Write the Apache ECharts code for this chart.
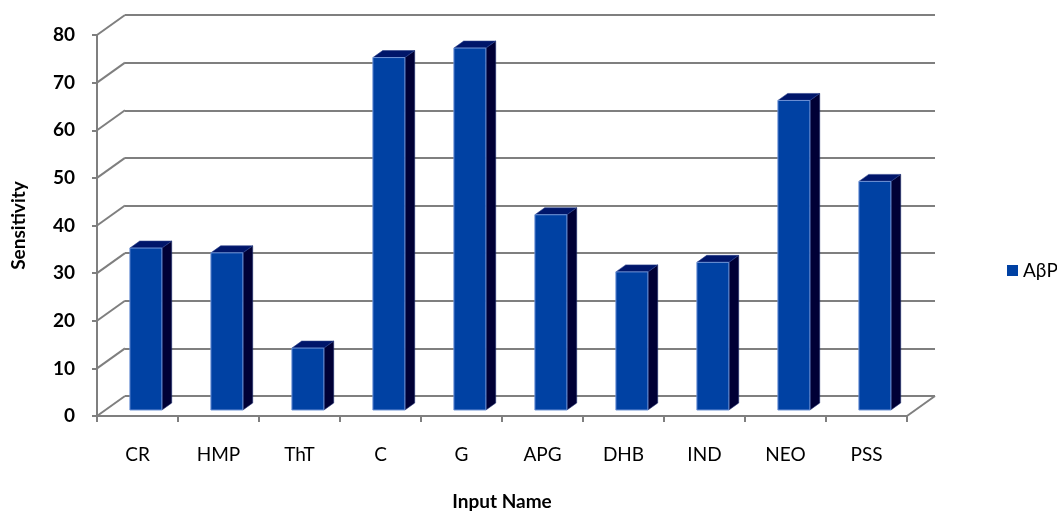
<!DOCTYPE html>
<html>
<head>
<meta charset="utf-8">
<script src="https://cdn.jsdelivr.net/npm/echarts@6/dist/echarts.min.js"></script>
<style>
  html, body { margin: 0; padding: 0; background: #fff; }
  #chart { width: 1057px; height: 513px; }
</style>
</head>
<body>
<div id="chart"></div>
<script>
// Sensitivity per input, shown as pseudo-3D columns
const categories = ['CR', 'HMP', 'ThT', 'C', 'G', 'APG', 'DHB', 'IND', 'NEO', 'PSS'];
const sensitivity = [34, 33, 13, 74, 76, 41, 29, 31, 65, 48];
const yTicks = [0, 10, 20, 30, 40, 50, 60, 70, 80];
const seriesName = 'A\u03B2P';

// depth vector from the front plane to the back wall (pixels)
const DEPTH = [28, -20];
const GRID_COLOR = '#7f7f7f';
const FONT = 'Lato, "Open Sans", sans-serif';

const chart = echarts.init(document.getElementById('chart'), null, { renderer: 'canvas' });

function renderBar(params, api) {
  const i = api.value(0);
  const base = api.coord([i, 0]);
  const top = api.coord([i, api.value(1)]);
  const band = api.size([1, 0])[0];
  const fw = band * 0.395;
  const t0 = 0.3, t1 = 0.65;
  const cx = base[0] + DEPTH[0] * t0;
  const x0 = cx - fw / 2, x1 = cx + fw / 2;
  const yb = base[1] + DEPTH[1] * t0;
  const yt = top[1] + DEPTH[1] * t0;
  const sx = DEPTH[0] * (t1 - t0), sy = DEPTH[1] * (t1 - t0);
  return {
    type: 'group',
    children: [
      { type: 'polygon', shape: { points: [[x1, yt], [x1 + sx, yt + sy], [x1 + sx, yb + sy], [x1, yb]] },
        style: { fill: '#000035', stroke: '#1a2a6a', lineWidth: 0.6 } },
      { type: 'polygon', shape: { points: [[x0, yt], [x0 + sx, yt + sy], [x1 + sx, yt + sy], [x1, yt]] },
        style: { fill: '#00166a', stroke: '#2a3f8a', lineWidth: 0.6 } },
      { type: 'rect', shape: { x: x0, y: yt, width: fw, height: yb - yt },
        style: { fill: '#0041a3', stroke: '#6f93d6', lineWidth: 1 } }
    ]
  };
}

function renderConnector(params, api) {
  const v = api.value(0);
  const cs = params.coordSys;
  const y = api.coord([0, v])[1];
  const lines = [
    { type: 'line', shape: { x1: cs.x, y1: y, x2: cs.x + DEPTH[0], y2: y + DEPTH[1] },
      style: { stroke: GRID_COLOR, lineWidth: 2 } }
  ];
  if (v === 0) {
    // right edge of the floor
    const xr = cs.x + cs.width;
    lines.push({ type: 'line', shape: { x1: xr, y1: y, x2: xr + DEPTH[0], y2: y + DEPTH[1] },
      style: { stroke: GRID_COLOR, lineWidth: 2 } });
  }
  return { type: 'group', children: lines };
}

const option = {
  backgroundColor: '#ffffff',
  animation: false,
  textStyle: { fontFamily: FONT },
  legend: {
    data: [{ name: seriesName, icon: 'rect' }],
    left: 1002, top: 256,
    itemWidth: 11, itemHeight: 11, itemGap: 8,
    textStyle: { fontFamily: FONT, fontSize: 19, color: '#000' }
  },
  grid: [
    { left: 97, top: 35, width: 810, height: 381, containLabel: false, outerBoundsMode: 'none' },
    { left: 125, top: 15, width: 810, height: 381, containLabel: false, outerBoundsMode: 'none' }
  ],
  xAxis: [
    {
      type: 'category', gridIndex: 0, data: categories,
      axisLine: { show: true, lineStyle: { color: GRID_COLOR, width: 2 } },
      axisTick: { show: true, length: 6, lineStyle: { color: GRID_COLOR, width: 2 } },
      axisLabel: { fontFamily: FONT, fontSize: 19, color: '#000', margin: 29 },
      name: 'Input Name', nameLocation: 'middle', nameGap: 76,
      nameTextStyle: { fontFamily: FONT, fontSize: 19, fontWeight: 'bold', color: '#000' }
    },
    { type: 'category', gridIndex: 1, data: categories, show: false }
  ],
  yAxis: [
    {
      type: 'value', gridIndex: 0, min: 0, max: 80, interval: 10,
      axisLine: { show: true, lineStyle: { color: GRID_COLOR, width: 2 } },
      axisTick: { show: true, length: 5, lineStyle: { color: GRID_COLOR, width: 2 } },
      splitLine: { show: false },
      axisLabel: { fontFamily: FONT, fontSize: 19, fontWeight: 'bold', color: '#000', margin: 22 },
      name: 'Sensitivity', nameLocation: 'middle', nameGap: 69,
      nameTextStyle: { fontFamily: FONT, fontSize: 19, fontWeight: 'bold', color: '#000' }
    },
    {
      type: 'value', gridIndex: 1, min: 0, max: 80, interval: 10,
      axisLine: { show: false }, axisTick: { show: false }, axisLabel: { show: false },
      splitLine: { show: true, lineStyle: { color: GRID_COLOR, width: 2 } }
    }
  ],
  series: [
    {
      name: 'wall-depth', type: 'custom', xAxisIndex: 0, yAxisIndex: 0,
      data: yTicks.map(v => [v]), renderItem: renderConnector, silent: true, z: 1,
      encode: { y: 0 }
    },
    {
      name: seriesName, type: 'custom', xAxisIndex: 0, yAxisIndex: 0,
      itemStyle: { color: '#0041a3' },
      data: sensitivity.map((v, i) => [i, v]),
      encode: { x: 0, y: 1 },
      renderItem: renderBar, z: 3
    }
  ]
};

chart.setOption(option);
</script>
</body>
</html>
